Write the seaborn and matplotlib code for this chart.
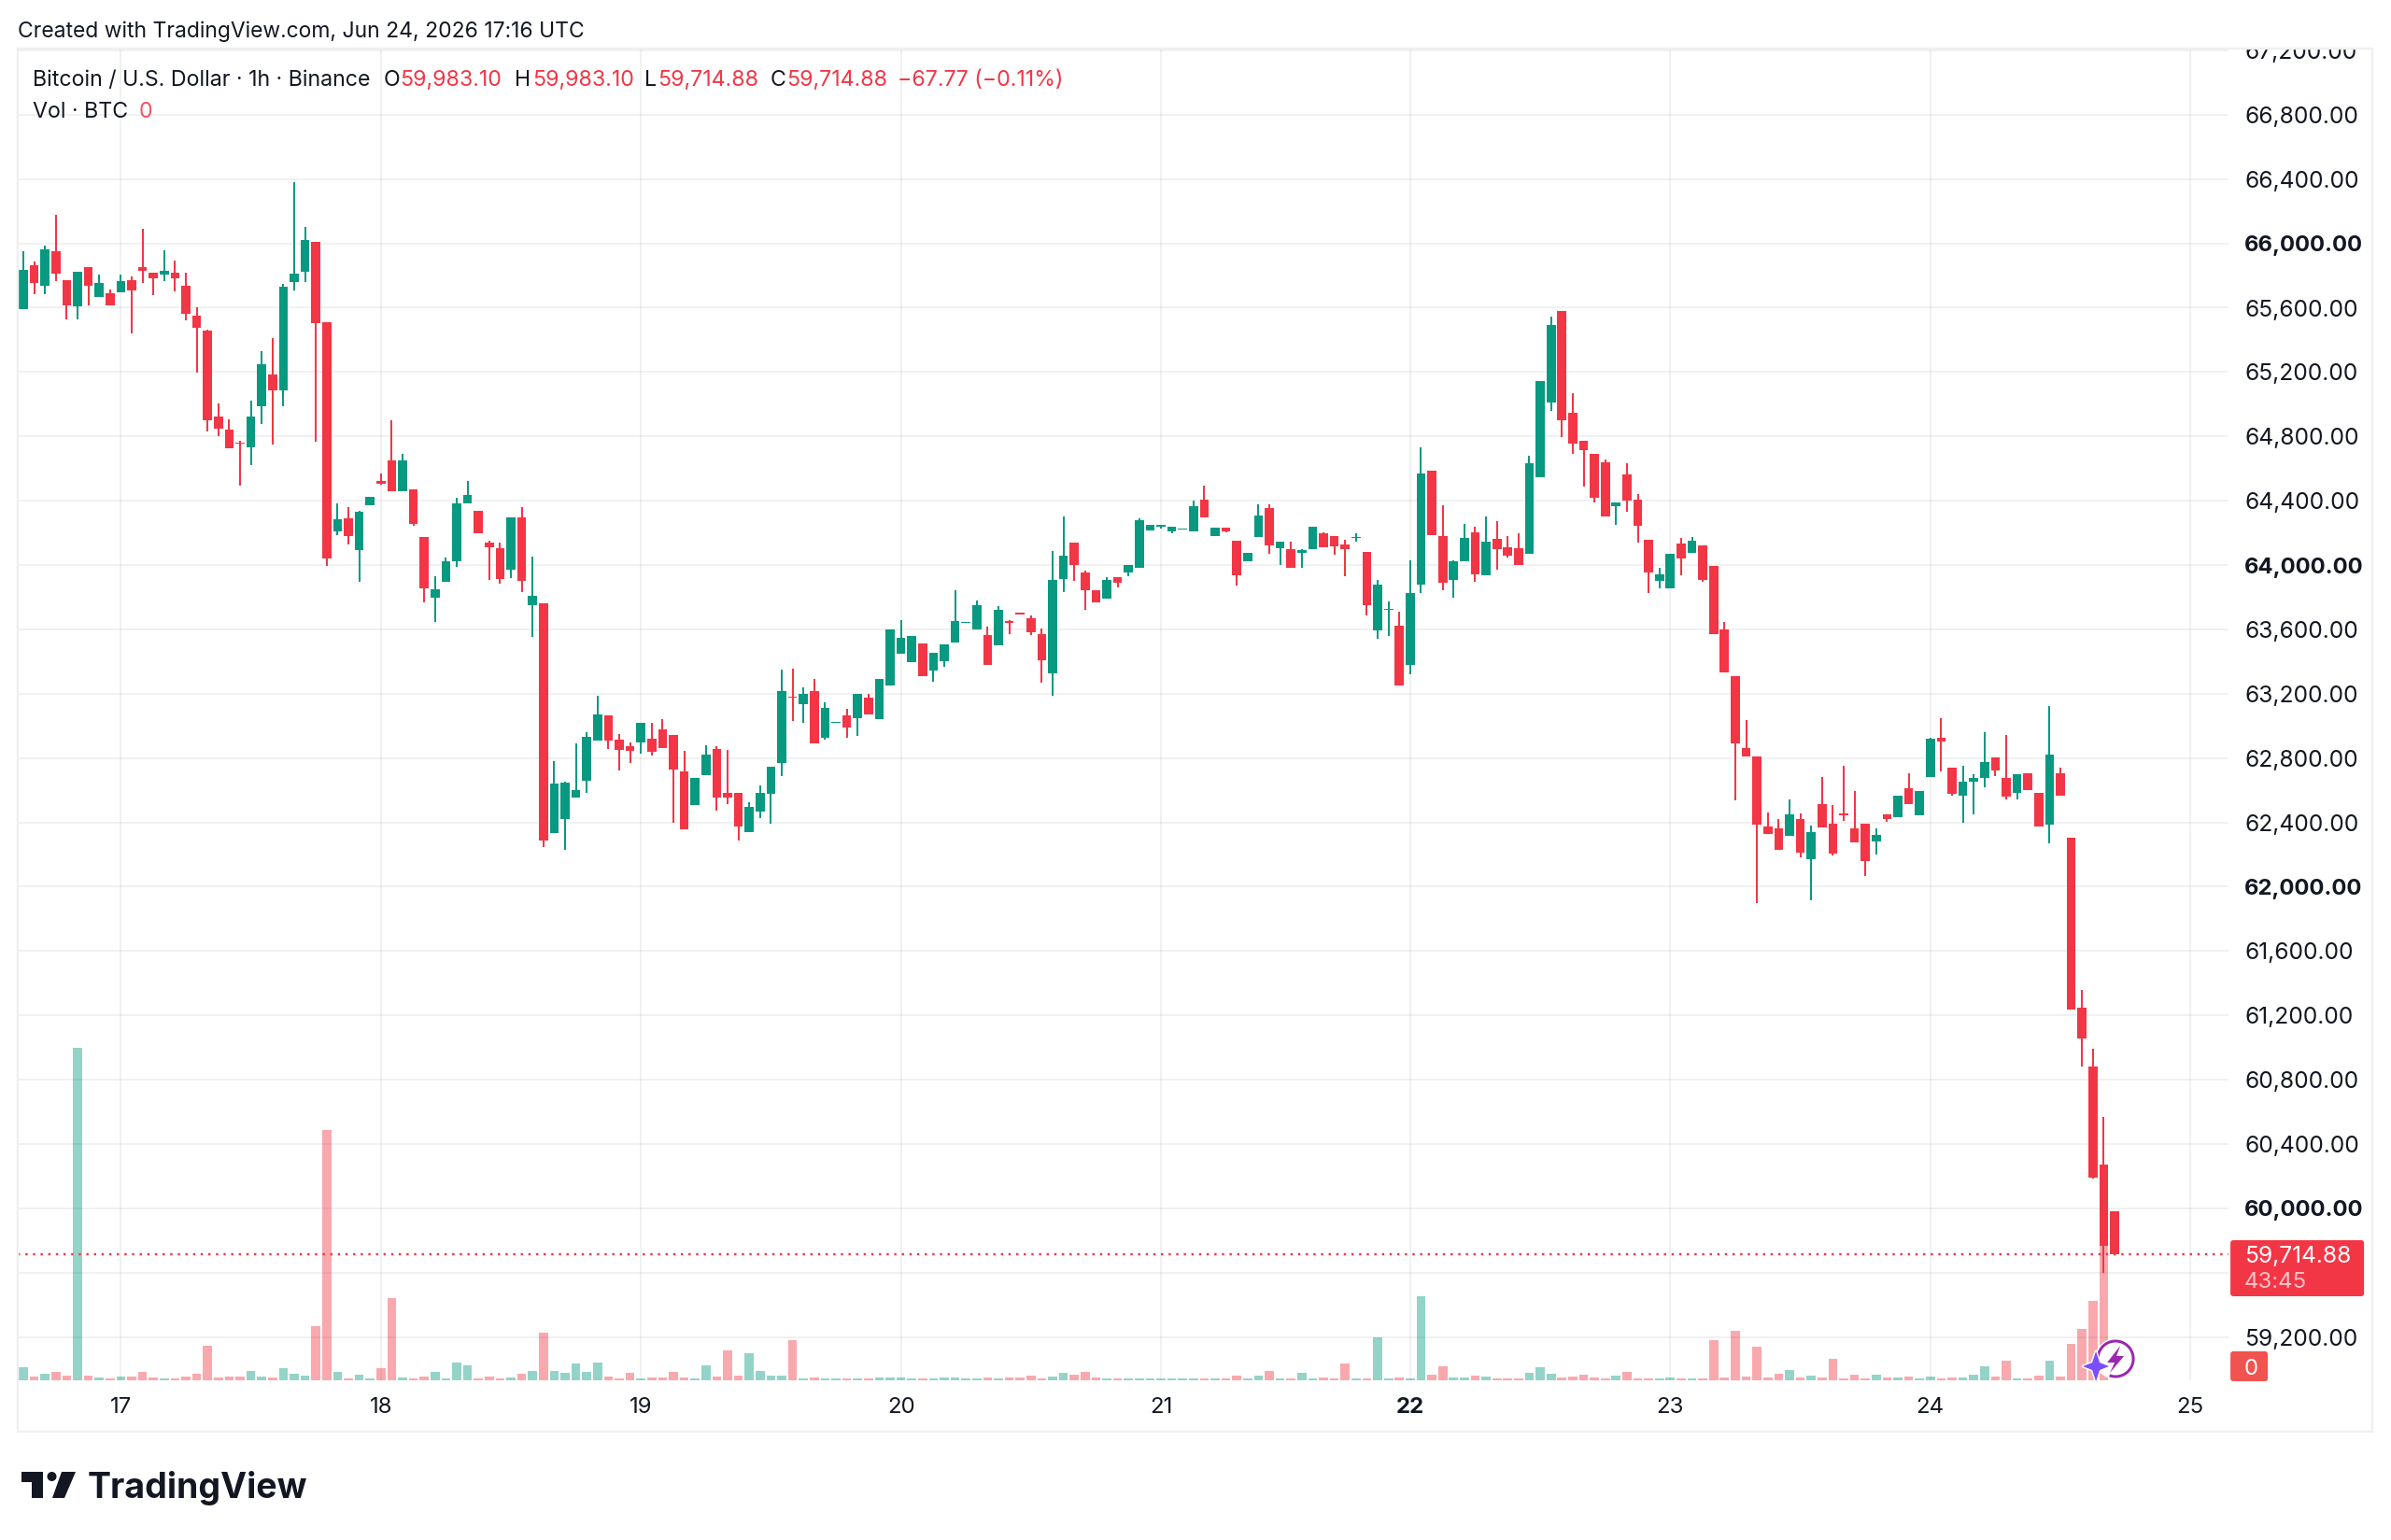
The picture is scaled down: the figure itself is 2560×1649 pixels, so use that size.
import numpy as np
import pandas as pd
import matplotlib
matplotlib.use("Agg")
import matplotlib.pyplot as plt
from matplotlib.patches import Circle, FancyBboxPatch, Polygon, Rectangle, Arc
from matplotlib.transforms import Bbox
import seaborn as sns

# Hourly BTC/USD candles, 16 Jun evening to 24 Jun 2026
open_ = [65589,65862,65736,65951,65773,65608,65850,65668,65688,65697,65771,65850,65818,65808,65818,65738,65548,65457,64925,64840,
         64762,64731,64989,65184,65084,65757,65825,66007,65510,64211,64288,64091,64371,64520,64648,64459,64468,64172,63797,63893,
         64021,64381,64335,64137,64102,63969,64298,63752,63762,62333,62422,62556,62658,62910,63065,62914,62873,62898,62923,62980,
         62941,62716,62507,62693,62858,62581,62583,62339,62466,62579,62772,63180,63136,63215,62925,63016,63068,63049,63175,63043,
         63250,63446,63395,63512,63345,63401,63519,63639,63597,63562,63498,63653,63703,63668,63568,63328,63914,64139,63955,63843,
         63794,63926,63951,63984,64214,64237,64210,64221,64209,64408,64180,64234,64151,64023,64174,64354,64102,64099,64073,64097,
         64195,64178,64128,64168,64083,63591,63721,63622,63378,63878,64585,64178,63905,64023,64201,63934,64162,64110,64104,64068,
         64548,65012,65578,64948,64774,64691,64641,64364,64561,64404,64157,63903,63857,64135,64075,64122,63994,63601,63309,62861,
         62808,62377,62361,62319,62421,62171,62512,62392,62456,62365,62394,62284,62448,62431,62613,62446,62683,62928,62743,62564,
         62655,62677,62804,62675,62582,62704,62586,62386,62708,62306,61246,60881,60273,59983.10]
high = [65953,65887,65984,66178,65773,65821,65850,65806,65713,65806,65794,66092,65818,65957,65891,65818,65605,65463,65004,64908,
        64772,65022,65330,65409,65746,66381,66104,66007,65510,64381,64358,64336,64426,64567,64902,64689,64468,64172,63930,64048,
        64418,64524,64335,64149,64137,64294,64358,64054,63762,62778,62654,62892,62962,63185,63065,62947,62898,63020,63020,63043,
        62941,62846,62678,62881,62875,62852,62583,62526,62627,62745,63349,63355,63242,63293,63146,63022,63107,63198,63198,63293,
        63597,63659,63556,63512,63455,63508,63843,63645,63777,63618,63742,63657,63703,63686,63606,64090,64303,64139,63966,63843,
        63922,63926,64001,64288,64247,64247,64236,64226,64399,64494,64234,64234,64151,64077,64377,64377,64145,64143,64099,64240,
        64201,64178,64157,64197,64083,63905,63773,63707,64027,64730,64585,64370,64027,64257,64240,64302,64275,64178,64195,64677,
        65146,65545,65578,65068,64774,64691,64656,64389,64635,64443,64157,63984,64068,64170,64176,64122,63994,63647,63309,63035,
        62808,62462,62423,62541,62456,62379,62681,62506,62750,62597,62394,62361,62448,62568,62704,62595,62928,63046,62743,62750,
        62698,62961,62804,62944,62698,62704,62586,63124,62743,62306,61357,60995,60569,59983.10]
low = [65589,65684,65686,65767,65527,65527,65616,65668,65612,65697,65442,65752,65678,65767,65701,65521,65196,64830,64803,64724,
       64493,64623,64877,64751,64989,65707,65757,64768,63994,64187,64129,63893,64371,64497,64459,64459,64246,63767,63645,63893,
       63988,64381,64195,63907,63886,63919,63829,63555,62246,62333,62230,62556,62583,62910,62859,62724,62769,62827,62815,62861,
       62397,62354,62507,62693,62472,62511,62290,62339,62426,62393,62689,63029,63020,62890,62915,63016,62927,62938,63070,63043,
       63250,63446,63395,63312,63275,63366,63519,63639,63597,63378,63498,63568,63695,63562,63270,63186,63833,63901,63724,63765,
       63794,63862,63932,63984,64214,64224,64199,64221,64209,64298,64180,64201,63872,64023,64174,64071,64000,63984,63982,64097,
       64112,64066,63930,64147,63686,63539,63560,63254,63320,63828,64186,63843,63797,64023,63893,63934,63971,64044,64002,64068,
       64548,64956,64794,64689,64490,64389,64300,64250,64333,64137,63824,63853,63857,63934,64075,63895,63570,63330,62537,62812,
       61896,62330,62229,62319,62183,61918,62369,62193,62411,62278,62065,62198,62404,62431,62514,62446,62683,62715,62568,62400,
       62450,62619,62688,62541,62541,62599,62375,62270,62564,61239,60883,60184,59598,59714.88]
close = [65835,65754,65963,65814,65612,65821,65736,65756,65612,65767,65709,65831,65781,65827,65781,65564,65477,64900,64850,64724,
         64753,64925,65250,65084,65732,65810,66019,65506,64042,64284,64182,64331,64426,64505,64459,64648,64257,63855,63847,64025,
         64385,64435,64195,64110,63911,64294,63899,63806,62286,62639,62645,62598,62929,63071,62910,62850,62844,63020,62838,62861,
         62730,62354,62678,62819,62557,62557,62374,62497,62581,62745,63215,63173,63198,62890,63113,63022,62991,63198,63070,63293,
         63597,63546,63556,63312,63455,63508,63653,63645,63748,63378,63721,63643,63695,63581,63407,63905,64061,64003,63841,63765,
         63905,63891,64001,64280,64247,64247,64236,64226,64364,64298,64234,64209,63934,64077,64308,64124,64145,63984,64093,64240,
         64112,64118,64097,64176,63748,63876,63729,63254,63826,64571,64186,63889,64023,64166,63940,64145,64097,64058,64002,64633,
         65146,65494,64902,64755,64712,64420,64300,64389,64402,64244,63951,63944,64068,64042,64151,63907,63570,63330,62892,62812,
         62386,62330,62229,62448,62212,62338,62369,62204,62446,62278,62162,62320,62419,62568,62514,62595,62921,62903,62576,62652,
         62675,62775,62723,62559,62698,62599,62375,62820,62564,61239,61059,60191,59770,59714.88]
# Traded volume per hour, BTC (relative scale of the lower band)
volume = [41,12,21,27,15,1068,15,9,6,12,12,27,9,6,6,12,21,111,9,12,
          12,30,12,9,39,21,15,174,804,27,6,18,6,39,264,9,6,12,27,6,
          56,47,6,12,6,9,21,30,154,30,24,53,27,56,12,6,24,6,9,9,
          27,9,6,47,12,96,15,87,30,15,15,129,6,9,6,6,6,6,6,9,
          9,9,6,6,6,9,9,6,6,9,6,9,9,15,6,12,24,18,27,9,
          6,6,6,6,6,6,6,6,6,6,6,6,15,6,15,30,6,6,24,6,
          9,6,53,6,6,137,6,9,6,270,18,44,9,9,15,12,6,6,6,24,
          41,21,9,12,18,9,6,15,27,6,6,6,9,6,6,6,129,9,160,12,
          108,9,21,33,9,15,9,70,6,18,6,18,9,9,12,6,12,6,9,9,
          18,44,12,64,6,6,15,64,12,117,165,255,474,0]

day_ticks = [9, 33, 57, 81, 105, 128, 152, 176, 200]
day_labels = ["17", "18", "19", "20", "21", "22", "23", "24", "25"]
price_ticks = list(range(59200, 67201, 400))
bold_prices = {60000, 62000, 64000, 66000}
hidden_prices = {59600}

last_price = close[-1]
header_text = "Created with TradingView.com, Jun 24, 2026 17:16 UTC"

GREEN = "#089981"
RED = "#f23645"
INK = "#131722"
GRID = "#2a2e39"
BORDER = "#f0f0f1"
W, H = 2560, 1649
PANE = (19, 53, 2386, 1478)  # left, top, right, bottom in pixels
BAR_WIDTH = 0.83

sns.set_theme(style="white")
plt.rcParams["font.family"] = ["Inter", "DejaVu Sans"]


def px(v):
    """Pixel length as points at the figure's 100 dpi."""
    return v * 0.72


df = pd.DataFrame({"bar": np.arange(len(close)), "open": open_, "high": high,
                   "low": low, "close": close, "volume": volume})
df["up"] = df["close"] >= df["open"]
df["body_low"] = df[["open", "close"]].min(axis=1)
df["body"] = (df["close"] - df["open"]).abs()

fig = plt.figure(figsize=((W + 0.1) / 100, (H + 0.1) / 100), dpi=100, facecolor="white")
rect = [PANE[0] / W, 1 - PANE[3] / H, (PANE[2] - PANE[0]) / W, (PANE[3] - PANE[1]) / H]
ax_vol = fig.add_axes(rect, zorder=1)
ax = fig.add_axes(rect, zorder=2)
ax.patch.set_visible(False)

# Volume band along the bottom of the pane
for is_up, colour in ((True, GREEN), (False, RED)):
    part = df[df["up"] == is_up]
    sns.barplot(data=part, x="bar", y="volume", native_scale=True, width=BAR_WIDTH,
                color=colour, saturation=1, alpha=0.43, errorbar=None,
                linewidth=0, ax=ax_vol)
ax_vol.set_ylim(0, 4275)
ax_vol.set_xlim(-0.517, 203.53)
ax_vol.axis("off")

# Candles: wicks first, then bodies on top
for is_up, colour in ((True, GREEN), (False, RED)):
    part = df[df["up"] == is_up]
    ax.vlines(part["bar"], part["low"], part["high"], color=colour, lw=px(2), zorder=3)
    sns.barplot(data=part, x="bar", y="body", native_scale=True, width=BAR_WIDTH,
                color=colour, saturation=1, errorbar=None, bottom=part["body_low"].to_numpy(),
                linewidth=0, ax=ax, zorder=4)

ax.axhline(last_price, color=RED, lw=px(2.4), ls=(0, (1, 2.4)), zorder=3.5)

ax.set_xlim(-0.517, 203.53)
ax.set_ylim(58931, 67206)
ax.set_xlabel("")
ax.set_ylabel("")
ax.set_axisbelow(True)
ax.grid(True, color=GRID, alpha=0.065, lw=px(2))
for spine in ax.spines.values():
    spine.set_visible(False)

ax.set_xticks(day_ticks, day_labels)
ax.yaxis.tick_right()
ax.set_yticks(price_ticks, ["" if p in hidden_prices else f"{p:,.2f}" for p in price_ticks])
ax.tick_params(axis="x", length=0, pad=px(18), labelsize=px(24), labelcolor=INK)
ax.tick_params(axis="y", length=0, pad=px(17), labelsize=px(24.6), labelcolor=INK)
for lab in ax.get_xticklabels():
    if lab.get_text() == "22":
        lab.set_fontweight("bold")
clip = Bbox([[0, 0], [W, H - PANE[1] + 1]])
for lab, p in zip(ax.get_yticklabels(), price_ticks):
    lab.set_horizontalalignment("left")
    lab.set_clip_box(clip)
    lab.set_clip_on(True)
    if p in bold_prices:
        lab.set_fontweight("bold")
        lab.set_fontsize(px(23.8))

# Page furniture drawn in pixel space: frame, header, legend, price tags, logo
ov = fig.add_axes([0, 0, 1, 1], zorder=5)
ov.set_xlim(0, W)
ov.set_ylim(H, 0)
ov.axis("off")
ov.patch.set_visible(False)

ov.add_patch(Rectangle((19, 52), 2521, 1481, fill=False, ec=BORDER, lw=px(2.5)))


def label(x, y, s, size=24, color=INK, weight="normal", ha="left"):
    return ov.text(x, y, s, fontsize=px(size), color=color, fontweight=weight,
                   ha=ha, va="center_baseline")


label(19, 31, header_text, size=22.9)
legend_y = 83
label(35, legend_y, "Bitcoin / U.S. Dollar · 1h · Binance", size=23.2)
for x_key, key, x_val, val in ((411, "O", 428, f"{open_[-1]:,.2f}"), (551, "H", 570, f"{high[-1]:,.2f}"),
                               (690, "L", 704, f"{low[-1]:,.2f}"), (825, "C", 842, f"{close[-1]:,.2f}")):
    label(x_key, legend_y, key, size=23.2)
    label(x_val, legend_y, val, size=23.2, color=RED)
label(961, legend_y, "−67.77 (−0.11%)", size=23.2, color=RED)
label(35, 117, "Vol · BTC", size=23.2)
label(149, 117, "0", size=23.2, color="#f7525f")

# Last price tag with countdown, and the volume tag beneath it
ov.add_patch(FancyBboxPatch((2388, 1328), 143, 60, boxstyle="round,pad=0,rounding_size=3",
                            fc=RED, ec="none"))
label(2403, 1343, f"{last_price:,.2f}", size=24.6, color="white")
label(2403, 1370, "43:45", size=24, color="#fbc3c8")
ov.add_patch(FancyBboxPatch((2388, 1447), 40, 32, boxstyle="round,pad=0,rounding_size=3",
                            fc="#f05350", ec="none"))
label(2403, 1463, "0", size=24, color="white")

# Assistant badge beside the newest bars
ov.add_patch(Circle((2265, 1455), 22, fc="white", ec="none"))
ov.add_patch(Arc((2265, 1455), 38, 38, theta1=-215, theta2=110, ec="#9c27b0", lw=px(3)))
ov.add_patch(Polygon([(2270, 1441), (2256, 1459), (2264, 1459), (2259, 1470),
                      (2274, 1452), (2266, 1452)], fc="#9c27b0", ec="none"))
star = [(2244, 1447), (2248, 1459), (2258, 1463), (2248, 1467), (2244, 1479),
        (2240, 1467), (2230, 1463), (2240, 1459)]
ov.add_patch(Polygon(star, fc="#7b4dff", ec="white", lw=px(3), joinstyle="round"))
ov.add_patch(Polygon(star, fc="#7b4dff", ec="none"))

# Wordmark
ov.add_patch(Polygon([(23, 1576), (46, 1576), (46, 1604), (34, 1604), (34, 1587), (23, 1587)],
                     fc=INK, ec="none"))
ov.add_patch(Circle((55.5, 1581), 5, fc=INK, ec="none"))
ov.add_patch(Polygon([(66, 1576), (81, 1576), (69, 1604), (56, 1604)], fc=INK, ec="none"))
ov.text(94, 1604, "TradingView", fontsize=px(37.5), color=INK, fontweight="bold",
        ha="left", va="baseline")

fig.savefig("out.png", dpi=100, facecolor="white")
